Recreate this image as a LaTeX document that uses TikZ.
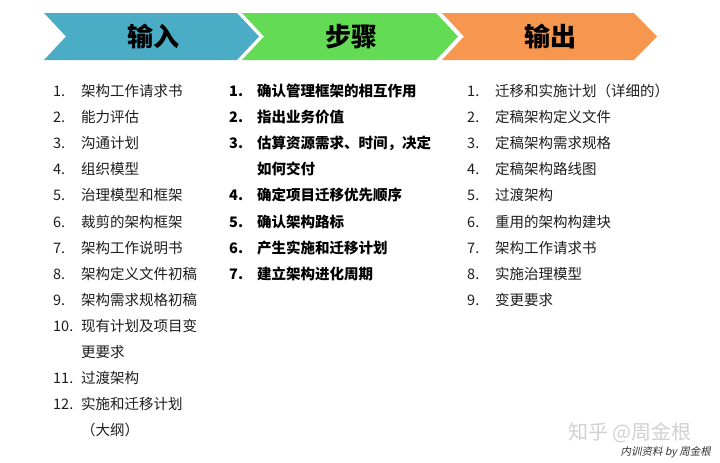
\documentclass[tikz,border=0pt]{standalone}
\usepackage{fontspec}
\setmainfont{Noto Sans CJK SC}
\newfontfamily\cjk{Noto Sans CJK SC}
\newfontfamily\cjkslant[FakeSlant=0.2]{Noto Sans CJK SC}
\definecolor{blueC}{HTML}{4BACC6}
\definecolor{greenC}{HTML}{63DB55}
\definecolor{orangeC}{HTML}{F7964E}
\definecolor{txt}{HTML}{1E1E1E}
\tikzset{
  head/.style={font=\cjk\bfseries\fontsize{26}{26}\selectfont, text=black},
  num/.style={anchor=base west, inner sep=0pt, font=\cjk\fontsize{14.5}{14.5}\selectfont, text=txt},
  item/.style={anchor=base west, inner sep=0pt, font=\cjk\fontsize{14.5}{14.5}\selectfont, text=txt},
  bnum/.style={num, font=\cjk\bfseries\fontsize{14.5}{14.5}\selectfont, text=black},
  bitem/.style={item, font=\cjk\bfseries\fontsize{14.5}{14.5}\selectfont, text=black},
}
\begin{document}
\begin{tikzpicture}[x=1pt,y=-1pt]
\useasboundingbox (0,0) rectangle (720,463);
\fill[white] (0,0) rectangle (720,463);
% chevrons
\fill[blueC] (44,13) -- (237,13) -- (259,36.5) -- (237,60) -- (44,60) -- (66,36.5) -- cycle;
\fill[greenC] (242,13) -- (436,13) -- (458,36.5) -- (436,60) -- (242,60) -- (264,36.5) -- cycle;
\fill[orangeC] (442,13) -- (634,13) -- (657,36.5) -- (634,60) -- (442,60) -- (464,36.5) -- cycle;
\node[head] (hin) at (153,36.5) {输入};
\node[head] (hstep) at (351,36.5) {步骤};
\node[head] (hout) at (550,36.5) {输出};
% input column
\node[num] (in1n) at (53,96.5) {1.};   \node[item] (in1) at (81,96.5) {架构工作请求书};
\node[num] (in2n) at (53,122.6) {2.};  \node[item] (in2) at (81,122.6) {能力评估};
\node[num] (in3n) at (53,148.7) {3.};  \node[item] (in3) at (81,148.7) {沟通计划};
\node[num] (in4n) at (53,174.8) {4.};  \node[item] (in4) at (81,174.8) {组织模型};
\node[num] (in5n) at (53,200.9) {5.};  \node[item] (in5) at (81,200.9) {治理模型和框架};
\node[num] (in6n) at (53,227.0) {6.};  \node[item] (in6) at (81,227.0) {裁剪的架构框架};
\node[num] (in7n) at (53,253.1) {7.};  \node[item] (in7) at (81,253.1) {架构工作说明书};
\node[num] (in8n) at (53,279.2) {8.};  \node[item] (in8) at (81,279.2) {架构定义文件初稿};
\node[num] (in9n) at (53,305.3) {9.};  \node[item] (in9) at (81,305.3) {架构需求规格初稿};
\node[num] (in10n) at (53,331.4) {10.}; \node[item] (in10) at (81,331.4) {现有计划及项目变};
\node[item] (in10b) at (81,357.5) {更要求};
\node[num] (in11n) at (53,383.6) {11.}; \node[item] (in11) at (81,383.6) {过渡架构};
\node[num] (in12n) at (53,409.7) {12.}; \node[item] (in12) at (81,409.7) {实施和迁移计划};
\node[item] (in12b) at (81,435.8) {（大纲）};
% steps column
\node[bnum] (st1n) at (229,96.5) {1.};  \node[bitem] (st1) at (257,96.5) {确认管理框架的相互作用};
\node[bnum] (st2n) at (229,122.6) {2.}; \node[bitem] (st2) at (257,122.6) {指出业务价值};
\node[bnum] (st3n) at (229,148.7) {3.}; \node[bitem] (st3) at (257,148.7) {估算资源需求、时间，决定};
\node[bitem] (st3b) at (257,174.8) {如何交付};
\node[bnum] (st4n) at (229,200.9) {4.}; \node[bitem] (st4) at (257,200.9) {确定项目迁移优先顺序};
\node[bnum] (st5n) at (229,227.0) {5.}; \node[bitem] (st5) at (257,227.0) {确认架构路标};
\node[bnum] (st6n) at (229,253.1) {6.}; \node[bitem] (st6) at (257,253.1) {产生实施和迁移计划};
\node[bnum] (st7n) at (229,279.2) {7.}; \node[bitem] (st7) at (257,279.2) {建立架构进化周期};
% output column
\node[num] (ou1n) at (467,96.5) {1.};  \node[item] (ou1) at (495,96.5) {迁移和实施计划（详细的）};
\node[num] (ou2n) at (467,122.6) {2.}; \node[item] (ou2) at (495,122.6) {定稿架构定义文件};
\node[num] (ou3n) at (467,148.7) {3.}; \node[item] (ou3) at (495,148.7) {定稿架构需求规格};
\node[num] (ou4n) at (467,174.8) {4.}; \node[item] (ou4) at (495,174.8) {定稿架构路线图};
\node[num] (ou5n) at (467,200.9) {5.}; \node[item] (ou5) at (495,200.9) {过渡架构};
\node[num] (ou6n) at (467,227.0) {6.}; \node[item] (ou6) at (495,227.0) {重用的架构构建块};
\node[num] (ou7n) at (467,253.1) {7.}; \node[item] (ou7) at (495,253.1) {架构工作请求书};
\node[num] (ou8n) at (467,279.2) {8.}; \node[item] (ou8) at (495,279.2) {实施治理模型};
\node[num] (ou9n) at (467,305.3) {9.}; \node[item] (ou9) at (495,305.3) {变更要求};
% watermark and credit
\node[anchor=west, inner sep=0pt, text=black!18, font=\cjk\fontsize{20}{20}\selectfont] (wm) at (568,433) {知乎 @周金根};
\node[anchor=east, inner sep=0pt, text=black!80, font=\cjkslant\fontsize{10.5}{10.5}\selectfont] (credit) at (711,452) {内训资料 by 周金根};
\end{tikzpicture}
\end{document}
